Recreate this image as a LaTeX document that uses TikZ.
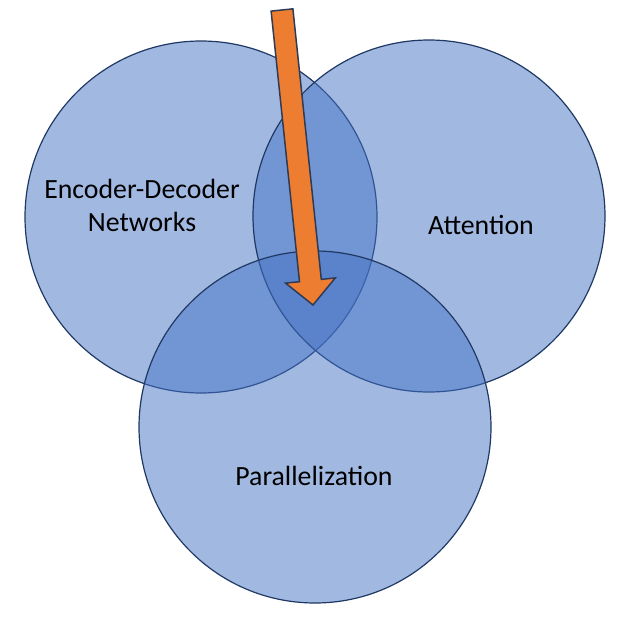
\documentclass[tikz,border=0pt]{standalone}
\usepackage{fontspec}
\setmainfont{Carlito}
\definecolor{vennfill}{HTML}{4472C4}
\definecolor{venndraw}{HTML}{1F3864}
\definecolor{arrowfill}{HTML}{ED7D31}
\definecolor{arrowdraw}{HTML}{2F3B55}
\tikzset{
  venn/.style={circle, minimum size=352pt, inner sep=0pt, fill=vennfill, fill opacity=0.5, draw=venndraw, line width=1.2pt},
  lbl/.style={font=\fontsize{27.8}{33}\selectfont, align=center, text=black},
  arr/.style={fill=arrowfill, draw=arrowdraw, line width=1.5pt, line join=miter}
}
\begin{document}
\begin{tikzpicture}[x=1pt,y=-1pt]
\useasboundingbox (0,0) rectangle (626,616);
\node[venn] (enc) at (201,217) {};
\node[venn] (att) at (429,216) {};
\node[venn] (par) at (315,427) {};
\draw[arr] (271.1,11.1) -- (292.9,8.85) -- (321.3,279.4) -- (335.3,277.9) -- (313,305) -- (285.5,283.1) -- (299.5,281.7) -- cycle;
\node[lbl, anchor=base] (t1) at (142,198) {Encoder-Decoder};
\node[lbl, anchor=base] (t2) at (142,231) {Networks};
\node[lbl, anchor=base] (t3) at (481,234) {Attention};
\node[lbl, anchor=base] (t4) at (314,485) {Parallelization};
\end{tikzpicture}
\end{document}
